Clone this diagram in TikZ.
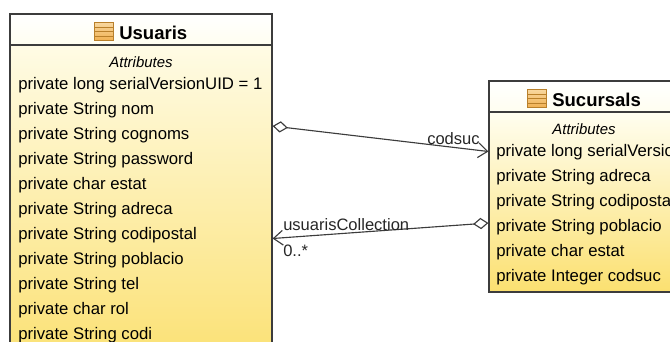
\documentclass[tikz,border=0pt]{standalone}
\usepackage{fontspec}
\setmainfont{Liberation Sans}
\usetikzlibrary{arrows.meta}
\definecolor{boxline}{HTML}{3C3C3C}
\definecolor{paleyellow}{HTML}{FFFEF0}
\definecolor{deepyellow}{HTML}{FBE070}
\definecolor{iconfill}{HTML}{F0B050}
\definecolor{iconpale}{HTML}{F8D8A0}
\definecolor{iconline}{HTML}{B9802A}
\tikzset{
    x=0.75pt, y=-0.75pt,
    classbox/.style={draw=boxline, line width=0.9pt, rectangle, inner sep=0pt, top color=paleyellow, bottom color=deepyellow},
    headbox/.style={draw=boxline, line width=0.8pt, rectangle, inner sep=0pt, top color=white, bottom color=paleyellow},
    classname/.style={anchor=west, inner sep=0pt, font=\fontsize{13.9pt}{14pt}\selectfont\bfseries},
    attrhead/.style={inner sep=0pt, font=\fontsize{11.2pt}{12pt}\selectfont\itshape},
    attrrow/.style={anchor=west, inner sep=0pt, font=\fontsize{12.55pt}{13pt}\selectfont},
    linklabel/.style={anchor=west, inner sep=0pt, font=\fontsize{12.4pt}{13pt}\selectfont, text=black!85},
    link/.style={draw=boxline, line width=0.85pt},
    tableicon/.style={draw=iconline, line width=0.9pt, rectangle, inner sep=0pt, minimum width=13.8pt, minimum height=14pt, top color=iconpale, bottom color=iconfill,
        path picture={
            \foreach \offs in {-3.4pt,0pt,3.4pt}
                \draw[iconline, line width=0.6pt] ([yshift=\offs]path picture bounding box.west) -- ([yshift=\offs]path picture bounding box.east);
        }},
}
\begin{document}
\begin{tikzpicture}
    \useasboundingbox (0,0) rectangle (670,342);
    \clip (0,0) rectangle (670,342);
    % left class
    \node at (141,193) [classbox, minimum width=196.5pt, minimum height=268pt] (UsuarisBody) {};
    \node at (141,29.5) [headbox, minimum width=196.5pt, minimum height=23.25pt] (UsuarisHead) {};
    \node at (104,31.5) [tableicon] (UsuarisIcon) {};
    \node at (119,32.5) [classname] (UsuarisName) {Usuaris};
    \node at (141,62.5) [attrhead] (UsuarisAttr) {Attributes};
    \foreach \rowtext [count=\rownum from 0] in {private long serialVersionUID = 1, private String nom, private String cognoms, private String password, private char estat, private String adreca, private String codipostal, private String poblacio, private String tel, private char rol, private String codi}
        \node at (18,85+25*\rownum) [attrrow] (UsuarisRow\rownum) {\rowtext};
    % right class
    \node at (584,202) [classbox, minimum width=142.5pt, minimum height=135pt] (SucursalsBody) {};
    \node at (584,96.5) [headbox, minimum width=142.5pt, minimum height=23.25pt] (SucursalsHead) {};
    \node at (537,98.5) [tableicon] (SucursalsIcon) {};
    \node at (552,99.5) [classname] (SucursalsName) {Sucursals};
    \node at (584,129.5) [attrhead] (SucursalsAttr) {Attributes};
    \foreach \rowtext [count=\rownum from 0] in {private long serialVersionUID = 1, private String adreca, private String codipostal, private String poblacio, private char estat, private Integer codsuc}
        \node at (496,152+25*\rownum) [attrrow] (SucursalsRow\rownum) {\rowtext};
    % links
    \coordinate (codsucStart) at (UsuarisBody.east |- 0,126);
    \coordinate (codsucEnd) at (SucursalsBody.west |- 0,151.5);
    \coordinate (collStart) at (SucursalsBody.west |- 0,223);
    \coordinate (collEnd) at (UsuarisBody.east |- 0,238.5);
    \draw[link, {Diamond[open,length=11.5pt,width=8.5pt,fill=white]}-{Straight Barb[length=7pt,width=11pt]}] (codsucStart) -- (codsucEnd);
    \draw[link, {Diamond[open,length=11.5pt,width=8.5pt,fill=white]}-{Straight Barb[length=7pt,width=11pt]}] (collStart) -- (collEnd);
    \node at (427,138.5) [linklabel] (codsucLabel) {codsuc};
    \node at (283,224.5) [linklabel] (collLabel) {usuarisCollection};
    \node at (283,250.5) [linklabel] (multLabel) {0..*};
\end{tikzpicture}
\end{document}
